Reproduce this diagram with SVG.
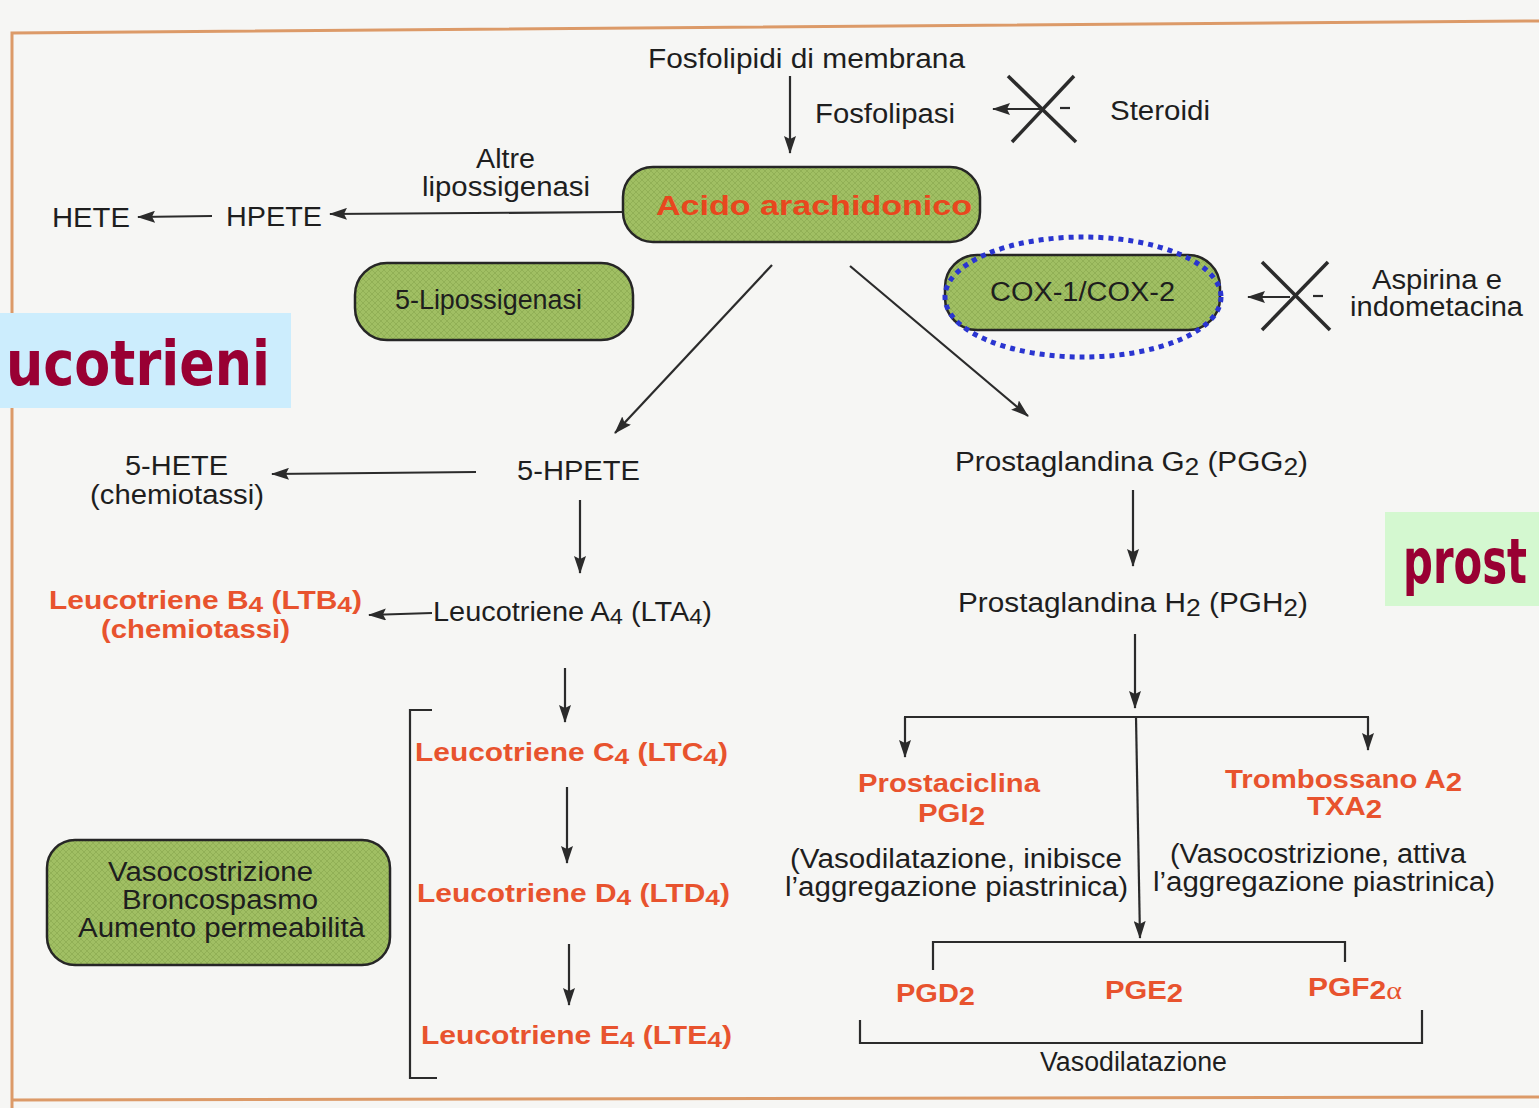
<svg xmlns="http://www.w3.org/2000/svg" width="1539" height="1108" viewBox="0 0 1539 1108">
<defs>
<pattern id="hatch" width="6" height="6" patternUnits="userSpaceOnUse">
<rect width="6" height="6" fill="#a0bf63"/>
<path d="M0,6 L6,0 M0,0 L6,6" stroke="#8dac53" stroke-width="0.8"/>
</pattern>
<marker id="ah" markerWidth="18" markerHeight="12" refX="17" refY="6" orient="auto" markerUnits="userSpaceOnUse">
<path d="M0,0 L18,6 L0,12 L3,6 z" fill="#2b2b2b"/>
</marker>
<style>
.t{font-family:"Liberation Sans",Arial,sans-serif;fill:#1e1e1e;font-size:27px}
.r{font-family:"Liberation Sans",Arial,sans-serif;fill:#e8532e;font-weight:bold;font-size:25px}
.box{fill:url(#hatch);stroke:#262626;stroke-width:2.5}
.ln{stroke:#2b2b2b;stroke-width:2.2;fill:none}
.ar{stroke:#2b2b2b;stroke-width:2.2;fill:none;marker-end:url(#ah)}
.x{stroke:#2b2b2b;stroke-width:3.5;fill:none}
.lab{font-family:"DejaVu Sans",sans-serif;font-weight:bold;font-size:62px;fill:#990033}
</style>
</defs>
<rect width="1539" height="1108" fill="#f6f6f4"/>
<path d="M12,1108 L12,33 L1539,21" fill="none" stroke="#dc9a68" stroke-width="3"/>
<path d="M12,1100 L1539,1097" fill="none" stroke="#dc9a68" stroke-width="3"/>

<g id="connectors">
<line class="ar" x1="790" y1="76" x2="790" y2="153"/>
<line class="ar" x1="1040" y1="109" x2="993" y2="109"/>
<line class="ln" x1="1060" y1="108" x2="1070" y2="108"/>
<line class="x" x1="1008" y1="76" x2="1076" y2="142"/>
<line class="x" x1="1074" y1="76" x2="1012" y2="142"/>
<line class="ar" x1="622" y1="212" x2="330" y2="214"/>
<line class="ar" x1="212" y1="216" x2="138" y2="217"/>
<line class="ar" x1="772" y1="265" x2="615" y2="433"/>
<line class="ar" x1="850" y1="266" x2="1028" y2="416"/>
<line class="ar" x1="1290" y1="297" x2="1248" y2="297"/>
<line class="ln" x1="1313" y1="296" x2="1323" y2="296"/>
<line class="x" x1="1262" y1="262" x2="1330" y2="330"/>
<line class="x" x1="1328" y1="262" x2="1262" y2="330"/>
<line class="ar" x1="476" y1="472" x2="272" y2="474"/>
<line class="ar" x1="580" y1="500" x2="580" y2="573"/>
<line class="ar" x1="432" y1="613" x2="369" y2="615"/>
<line class="ar" x1="565" y1="668" x2="565" y2="722"/>
<path class="ln" d="M432,710 L410,710 L410,1078 L437,1078"/>
<line class="ar" x1="567" y1="787" x2="567" y2="863"/>
<line class="ar" x1="569" y1="944" x2="569" y2="1005"/>
<line class="ar" x1="1133" y1="490" x2="1133" y2="566"/>
<line class="ar" x1="1135" y1="634" x2="1135" y2="708"/>
<line class="ln" x1="904" y1="717" x2="1369" y2="717"/>
<line class="ar" x1="905" y1="717" x2="905" y2="757"/>
<line class="ar" x1="1368" y1="717" x2="1368" y2="750"/>
<line class="ar" x1="1136" y1="717" x2="1140" y2="938"/>
<path class="ln" d="M933,970 L933,942 L1345,942 L1345,962"/>
<path class="ln" d="M860,1020 L860,1043 L1422,1043 L1422,1010"/>
</g>

<g id="n-fosfolipidi"><text class="t" x="648" y="68" textLength="317" lengthAdjust="spacingAndGlyphs">Fosfolipidi di membrana</text></g>
<g id="n-fosfolipasi"><text class="t" x="815" y="123" textLength="140" lengthAdjust="spacingAndGlyphs">Fosfolipasi</text></g>
<g id="n-steroidi"><text class="t" x="1110" y="120" textLength="100" lengthAdjust="spacingAndGlyphs">Steroidi</text></g>
<g id="n-acido">
<rect class="box" x="623" y="167" width="357" height="75" rx="30"/>
<text x="656" y="215" font-family="Liberation Sans, Arial, sans-serif" font-size="28" font-weight="bold" fill="#e8471e" textLength="316" lengthAdjust="spacingAndGlyphs">Acido arachidonico</text>
</g>
<g id="n-altre"><text class="t" x="476" y="168" textLength="59" lengthAdjust="spacingAndGlyphs">Altre</text><text class="t" x="422" y="196" textLength="168" lengthAdjust="spacingAndGlyphs">lipossigenasi</text></g>
<g id="n-hpete"><text class="t" x="226" y="226" textLength="96" lengthAdjust="spacingAndGlyphs">HPETE</text></g>
<g id="n-hete"><text class="t" x="52" y="227" textLength="78" lengthAdjust="spacingAndGlyphs">HETE</text></g>
<g id="n-5lipo">
<rect class="box" x="355" y="263" width="278" height="77" rx="32"/>
<text class="t" x="395" y="309" font-size="25" fill="#333" textLength="187" lengthAdjust="spacingAndGlyphs">5-Lipossigenasi</text>
</g>
<g id="n-cox">
<rect class="box" x="945" y="255" width="275" height="75" rx="32"/>
<text class="t" x="990" y="301" font-size="25" fill="#333" textLength="185" lengthAdjust="spacingAndGlyphs">COX-1/COX-2</text>
<ellipse cx="1083" cy="297" rx="138" ry="60" fill="none" stroke="#2a35d0" stroke-width="5" stroke-dasharray="5,5"/>
</g>
<g id="n-aspirina"><text class="t" x="1372" y="289" font-size="26" textLength="130" lengthAdjust="spacingAndGlyphs">Aspirina e</text><text class="t" x="1350" y="316" font-size="26" textLength="173" lengthAdjust="spacingAndGlyphs">indometacina</text></g>
<g id="n-leucotrieni">
<rect x="0" y="313" width="291" height="95" fill="#ccedfd"/>
<text class="lab" x="6" y="385" textLength="264" lengthAdjust="spacingAndGlyphs">ucotrieni</text>
</g>
<g id="n-prost">
<rect x="1385" y="512" width="154" height="94" fill="#d4f8d0"/>
<text class="lab" x="1403" y="583" textLength="124" lengthAdjust="spacingAndGlyphs">prost</text>
</g>
<g id="n-5hete"><text class="t" x="125" y="475" font-size="26" textLength="103" lengthAdjust="spacingAndGlyphs">5-HETE</text><text class="t" x="90" y="504" font-size="26" textLength="174" lengthAdjust="spacingAndGlyphs">(chemiotassi)</text></g>
<g id="n-5hpete"><text class="t" x="517" y="480" textLength="123" lengthAdjust="spacingAndGlyphs">5-HPETE</text></g>
<g id="n-ltb4"><text class="r" x="49" y="609" textLength="313" lengthAdjust="spacingAndGlyphs">Leucotriene B<tspan font-size="22" dy="3">4</tspan><tspan dy="-3"> (LTB</tspan><tspan font-size="22" dy="3">4</tspan><tspan dy="-3">)</tspan></text>
<text class="r" x="101" y="638" textLength="189" lengthAdjust="spacingAndGlyphs">(chemiotassi)</text></g>
<g id="n-lta4"><text class="t" x="433" y="621" font-size="25" textLength="279" lengthAdjust="spacingAndGlyphs">Leucotriene A<tspan font-size="22" dy="3">4</tspan><tspan dy="-3"> (LTA</tspan><tspan font-size="22" dy="3">4</tspan><tspan dy="-3">)</tspan></text></g>
<g id="n-ltc4"><text class="r" x="415" y="761" textLength="313" lengthAdjust="spacingAndGlyphs">Leucotriene C<tspan font-size="22" dy="3">4</tspan><tspan dy="-3"> (LTC</tspan><tspan font-size="22" dy="3">4</tspan><tspan dy="-3">)</tspan></text></g>
<g id="n-ltd4"><text class="r" x="417" y="902" textLength="313" lengthAdjust="spacingAndGlyphs">Leucotriene D<tspan font-size="22" dy="3">4</tspan><tspan dy="-3"> (LTD</tspan><tspan font-size="22" dy="3">4</tspan><tspan dy="-3">)</tspan></text></g>
<g id="n-lte4"><text class="r" x="421" y="1044" textLength="311" lengthAdjust="spacingAndGlyphs">Leucotriene E<tspan font-size="22" dy="3">4</tspan><tspan dy="-3"> (LTE</tspan><tspan font-size="22" dy="3">4</tspan><tspan dy="-3">)</tspan></text></g>
<g id="n-vaso">
<rect class="box" x="47" y="840" width="343" height="125" rx="28"/>
<text class="t" x="108" y="881" font-size="25" fill="#333" textLength="205" lengthAdjust="spacingAndGlyphs">Vasocostrizione</text>
<text class="t" x="122" y="909" font-size="25" fill="#333" textLength="196" lengthAdjust="spacingAndGlyphs">Broncospasmo</text>
<text class="t" x="78" y="937" font-size="25" fill="#333" textLength="287" lengthAdjust="spacingAndGlyphs">Aumento permeabilità</text>
</g>
<g id="n-pgg2"><text class="t" x="955" y="471" font-size="26" textLength="353" lengthAdjust="spacingAndGlyphs">Prostaglandina G<tspan font-size="24" dy="4">2</tspan><tspan dy="-4"> (PGG</tspan><tspan font-size="24" dy="4">2</tspan><tspan dy="-4">)</tspan></text></g>
<g id="n-pgh2"><text class="t" x="958" y="612" font-size="26" textLength="350" lengthAdjust="spacingAndGlyphs">Prostaglandina H<tspan font-size="24" dy="4">2</tspan><tspan dy="-4"> (PGH</tspan><tspan font-size="24" dy="4">2</tspan><tspan dy="-4">)</tspan></text></g>
<g id="n-pgi2"><text class="r" x="858" y="792" textLength="182" lengthAdjust="spacingAndGlyphs">Prostaciclina</text><text class="r" x="918" y="822" textLength="67" lengthAdjust="spacingAndGlyphs">PGI<tspan dy="3">2</tspan></text></g>
<g id="n-txa2"><text class="r" x="1225" y="788" textLength="237" lengthAdjust="spacingAndGlyphs">Trombossano A<tspan dy="3">2</tspan></text><text class="r" x="1307" y="815" textLength="75" lengthAdjust="spacingAndGlyphs">TXA<tspan dy="3">2</tspan></text></g>
<g id="n-vasodil1"><text class="t" x="790" y="868" font-size="26" textLength="332" lengthAdjust="spacingAndGlyphs">(Vasodilatazione, inibisce</text><text class="t" x="785" y="896" font-size="26" textLength="343" lengthAdjust="spacingAndGlyphs">l’aggregazione piastrinica)</text></g>
<g id="n-vasocost"><text class="t" x="1170" y="863" font-size="26" textLength="296" lengthAdjust="spacingAndGlyphs">(Vasocostrizione, attiva</text><text class="t" x="1153" y="891" font-size="26" textLength="342" lengthAdjust="spacingAndGlyphs">l’aggregazione piastrinica)</text></g>
<g id="n-pgd2"><text class="r" x="896" y="1002" textLength="79" lengthAdjust="spacingAndGlyphs">PGD<tspan dy="3">2</tspan></text></g>
<g id="n-pge2"><text class="r" x="1105" y="999" textLength="78" lengthAdjust="spacingAndGlyphs">PGE<tspan dy="3">2</tspan></text></g>
<g id="n-pgf2a"><text class="r" x="1308" y="996" textLength="94" lengthAdjust="spacingAndGlyphs">PGF<tspan dy="3">2</tspan><tspan font-weight="normal" font-family="Liberation Serif, serif">α</tspan></text></g>
<g id="n-vasodil2"><text class="t" x="1040" y="1071" font-size="25" textLength="187" lengthAdjust="spacingAndGlyphs">Vasodilatazione</text></g>
</svg>
